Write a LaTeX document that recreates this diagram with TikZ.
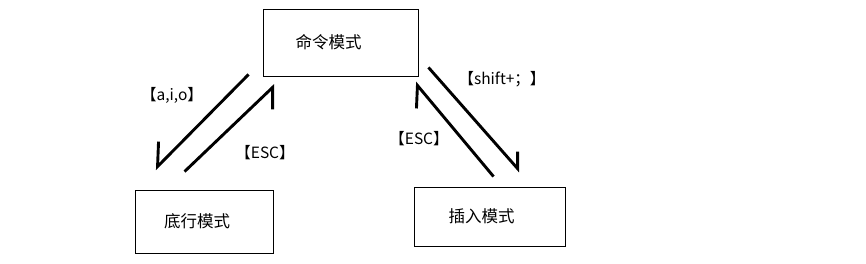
\documentclass[tikz,border=0pt]{standalone}
\usepackage{fontspec}
\setmainfont{Noto Sans CJK SC}
\usepackage{tikz}
\usetikzlibrary{positioning, calc}
\tikzset{
  modebox/.style={rectangle, draw=black, line width=0.9pt, fill=white,
                  font=\fontsize{16.5}{19}\selectfont},
  keylabel/.style={font=\fontsize{15.5}{18}\selectfont, inner sep=0pt},
  modearrow/.style={line width=2.9pt, color=black, line join=miter}
}

\begin{document}
\begin{tikzpicture}[x=1pt, y=-1pt]
  \useasboundingbox (0,0) rectangle (866,263);

  % the three modes
  \node[modebox, minimum width=155pt, minimum height=67pt] (cmd) at (340.5,42.5) {\hspace*{-24pt}命令模式};
  \node[modebox, minimum width=138pt, minimum height=63pt] (last) at (204,221.5) {\hspace*{-14pt}底行模式};
  \node[modebox, minimum width=151pt, minimum height=59pt] (ins) at (489.5,216.5) {\hspace*{-16pt}插入模式};

  % arrow ends near the boxes
  \coordinate (aio-from) at ($(cmd.south west)+(-14,-2)$);
  \coordinate (aio-to)   at ($(last.north west)+(23,-23)$);
  \coordinate (esc1-from) at ($(last.north west)+(50,-18)$);
  \coordinate (esc1-to)   at ($(cmd.south west)+(10,11)$);
  \coordinate (sh-from) at ($(cmd.south east)+(10,-9)$);
  \coordinate (sh-to)   at ($(ins.north west)+(104,-18)$);
  \coordinate (esc2-from) at ($(ins.north west)+(80,-10)$);
  \coordinate (esc2-to)   at ($(cmd.south east)+(-1,9)$);

  % connectors with one-sided heads
  \draw[modearrow] (aio-from) -- (aio-to) -- ++(1,-25);
  \draw[modearrow] (esc1-from) -- (esc1-to) -- ++(0,22);
  \draw[modearrow] (sh-from) -- (sh-to) -- ++(0,-17);
  \draw[modearrow] (esc2-from) -- (esc2-to) -- ++(-1,23);

  % key labels
  \node[keylabel] (aio-lbl)  at (172,95)  {【a,i,o】};
  \node[keylabel] (esc1-lbl) at (265,153) {【ESC】};
  \node[keylabel] (esc2-lbl) at (419,139) {【ESC】};
  \node[keylabel] (sh-lbl)   at (502,79)  {【shift+；】};
\end{tikzpicture}
\end{document}
